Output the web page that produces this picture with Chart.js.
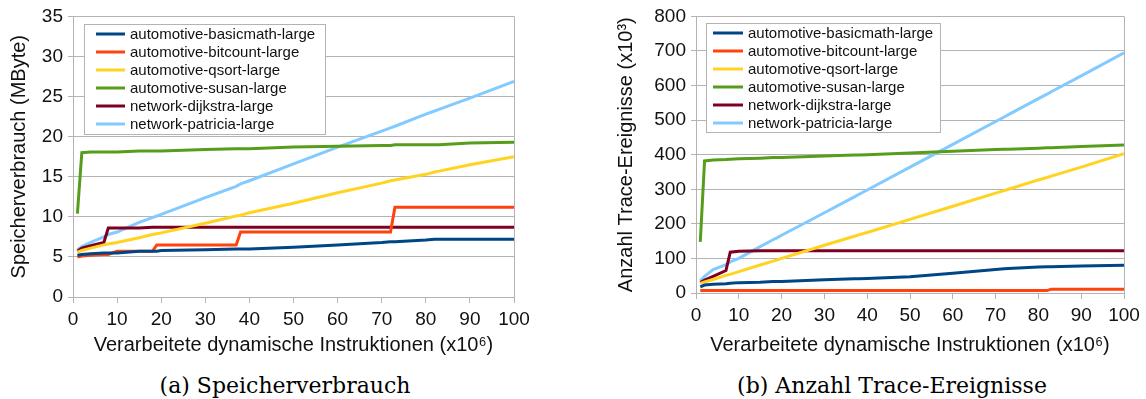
<!DOCTYPE html>
<html>
<head>
<meta charset="utf-8">
<script src="https://cdn.jsdelivr.net/npm/chart.js@4.4.0/dist/chart.umd.min.js"></script>
<style>
body { margin: 0; background: #fff; width: 1146px; height: 399px; position: relative; overflow: hidden; }
canvas { position: absolute; top: 0; }
#memChart { left: 0; }
#evtChart { left: 590px; }
.cap { position: absolute; top: 372px; font-family: "DejaVu Serif", serif; font-size: 22px; line-height: 28px; color: #000; white-space: nowrap; transform: translateX(-50%); }
</style>
</head>
<body>
<canvas id="memChart" width="545" height="360"></canvas>
<canvas id="evtChart" width="556" height="360"></canvas>
<div class="cap" style="left:285px">(a) Speicherverbrauch</div>
<div class="cap" style="left:892px">(b) Anzahl Trace-Ereignisse</div>
<script>
// x positions (in 10^6 instructions) shared by every series
const xPoints = [1, 2, 4, 7, 8, 10, 15, 18, 19, 20, 30, 37, 38, 40, 50, 60, 70, 72, 73, 80, 82, 83, 90, 100];

const seriesNames = ['automotive-basicmath-large', 'automotive-bitcount-large', 'automotive-qsort-large',
                     'automotive-susan-large', 'network-dijkstra-large', 'network-patricia-large'];
const seriesColors = ['#004586', '#ff420e', '#ffd320', '#579d1c', '#7e0021', '#83caff'];

// (a) Speicherverbrauch, MByte
const memBasicmath = [5.2, 5.3, 5.4, 5.5, 5.5, 5.5, 5.7, 5.7, 5.7, 5.8, 5.9, 6.0, 6.0, 6.0, 6.2, 6.5, 6.8, 6.9, 6.9, 7.1, 7.2, 7.2, 7.2, 7.2];
const memBitcount  = [5.0, 5.1, 5.2, 5.3, 5.3, 5.7, 5.7, 5.7, 6.5, 6.5, 6.5, 6.5, 8.1, 8.1, 8.1, 8.1, 8.1, 8.1, 11.2, 11.2, 11.2, 11.2, 11.2, 11.2];
const memQsort     = [5.6, 5.8, 6.1, 6.5, 6.6, 6.8, 7.4, 7.8, 7.9, 8.0, 9.2, 10.1, 10.2, 10.5, 11.7, 13.0, 14.2, 14.5, 14.6, 15.3, 15.6, 15.7, 16.5, 17.5];
const memSusan     = [10.4, 18.0, 18.1, 18.1, 18.1, 18.1, 18.2, 18.2, 18.2, 18.2, 18.4, 18.5, 18.5, 18.5, 18.7, 18.8, 18.9, 18.9, 19.0, 19.0, 19.0, 19.0, 19.2, 19.3];
const memDijkstra  = [5.7, 6.1, 6.4, 6.8, 8.6, 8.6, 8.6, 8.7, 8.7, 8.7, 8.7, 8.7, 8.7, 8.7, 8.7, 8.7, 8.7, 8.7, 8.7, 8.7, 8.7, 8.7, 8.7, 8.7];
const memPatricia  = [5.9, 6.3, 6.8, 7.5, 7.8, 8.1, 9.3, 9.9, 10.1, 10.3, 12.4, 13.8, 14.1, 14.5, 16.6, 18.7, 20.7, 21.1, 21.3, 22.8, 23.2, 23.4, 24.8, 26.9];

// (b) Anzahl Trace-Ereignisse, x10^3
const evtBasicmath = [18, 23, 25, 27, 28, 30, 31, 33, 33, 33, 38, 41, 41, 42, 47, 57, 68, 70, 71, 75, 76, 76, 78, 80];
const evtBitcount  = [7, 7, 7, 7, 7, 7, 7, 7, 7, 7, 7, 7, 7, 7, 7, 7, 7, 7, 7, 7, 7, 11, 11, 11];
const evtQsort     = [28, 32, 39, 51, 54, 62, 81, 92, 96, 100, 138, 164, 168, 175, 213, 251, 289, 296, 300, 327, 334, 338, 364, 403];
const evtSusan     = [148, 382, 385, 386, 387, 388, 390, 392, 392, 392, 396, 399, 399, 400, 405, 410, 415, 416, 416, 419, 420, 420, 424, 428];
const evtDijkstra  = [30, 37, 48, 65, 118, 121, 122, 122, 122, 122, 122, 122, 122, 122, 122, 122, 122, 122, 122, 122, 122, 122, 122, 122];
const evtPatricia  = [35, 48, 68, 82, 90, 100, 134, 154, 160, 167, 232, 278, 285, 298, 364, 430, 496, 509, 516, 562, 575, 582, 628, 695];

const gridColor = '#b3b3b3';

const boxLegend = {
  id: 'boxLegend',
  beforeDatasetsDraw(chart) {
    const { ctx, chartArea: a } = chart;
    ctx.save();
    ctx.strokeStyle = gridColor;
    ctx.lineWidth = 1;
    ctx.beginPath();
    ctx.moveTo(Math.round(a.right) + 0.5, a.top);
    ctx.lineTo(Math.round(a.right) + 0.5, a.bottom);
    ctx.stroke();
    ctx.restore();
  },
  afterDatasetsDraw(chart, args, o) {
    const { ctx, chartArea: a } = chart;
    const x0 = Math.round(a.left + o.dx), y0 = Math.round(a.top + o.dy);
    ctx.save();
    ctx.fillStyle = '#fff';
    ctx.fillRect(x0, y0, o.w, o.h);
    ctx.strokeStyle = gridColor;
    ctx.lineWidth = 1;
    ctx.strokeRect(x0 + 0.5, y0 + 0.5, o.w, o.h);
    ctx.font = '15px "Liberation Sans"';
    ctx.textBaseline = 'middle';
    chart.data.datasets.forEach((ds, i) => {
      const y = y0 + o.row0 + i * 18;
      ctx.strokeStyle = ds.borderColor;
      ctx.lineWidth = 3;
      ctx.beginPath();
      ctx.moveTo(x0 + o.l0, y);
      ctx.lineTo(x0 + o.l1, y);
      ctx.stroke();
      ctx.fillStyle = '#111';
      ctx.fillText(ds.label, x0 + o.tx, y + 1);
    });
    ctx.restore();
  }
};

function makeChart(id, series, yMax, yStep, yTitle, yWidth, yTitlePad, xHeight, padRight, legendOpts) {
  const datasets = series.map((vals, i) => ({
    label: seriesNames[i],
    data: xPoints.map((x, j) => ({ x: x, y: vals[j] })),
    borderColor: seriesColors[i],
    backgroundColor: seriesColors[i],
    borderWidth: 3,
    pointRadius: 0,
    tension: 0
  }));
  return new Chart(document.getElementById(id), {
    type: 'line',
    data: { datasets: datasets },
    plugins: [boxLegend],
    options: {
      responsive: false,
      animation: false,
      layout: { padding: { top: 15, right: padRight, left: 0, bottom: 0 } },
      plugins: {
        legend: { display: false },
        tooltip: { enabled: false },
        boxLegend: legendOpts
      },
      scales: {
        x: {
          type: 'linear', min: 0, max: 100,
          ticks: { stepSize: 10, color: '#111', padding: 5, maxRotation: 0, font: { family: 'Liberation Sans', size: 19 } },
          grid: { drawOnChartArea: false, drawTicks: true, tickLength: 6, color: gridColor },
          border: { color: gridColor },
          title: { display: true, text: 'Verarbeitete dynamische Instruktionen (x10⁶)', color: '#111',
                   font: { family: 'Liberation Sans', size: 20 }, padding: { top: 0, bottom: 3 } },
          afterFit(s) { s.height = xHeight; }
        },
        y: {
          min: 0, max: yMax,
          ticks: { stepSize: yStep, color: '#111', padding: 5, font: { family: 'Liberation Sans', size: 19 } },
          grid: { color: gridColor, tickLength: 5 },
          border: { color: gridColor },
          title: { display: true, text: yTitle, color: '#111',
                   font: { family: 'Liberation Sans', size: 20 }, padding: { top: yTitlePad, bottom: 0 } },
          afterFit(s) { s.width = yWidth; }
        }
      }
    }
  });
}

makeChart('memChart',
  [memBasicmath, memBitcount, memQsort, memSusan, memDijkstra, memPatricia],
  35, 5, 'Speicherverbrauch (MByte)', 73, 7, 63, 31,
  { dx: 11, dy: 8, w: 241, h: 110, row0: 10, l0: 12, l1: 41, tx: 46 });

makeChart('evtChart',
  [evtBasicmath, evtBitcount, evtQsort, evtSusan, evtDijkstra, evtPatricia],
  800, 100, 'Anzahl Trace-Ereignisse (x10³)', 106, 24, 67, 22,
  { dx: 10, dy: 7, w: 234, h: 109, row0: 10, l0: 7, l1: 37, tx: 42 });
</script>
</body>
</html>
